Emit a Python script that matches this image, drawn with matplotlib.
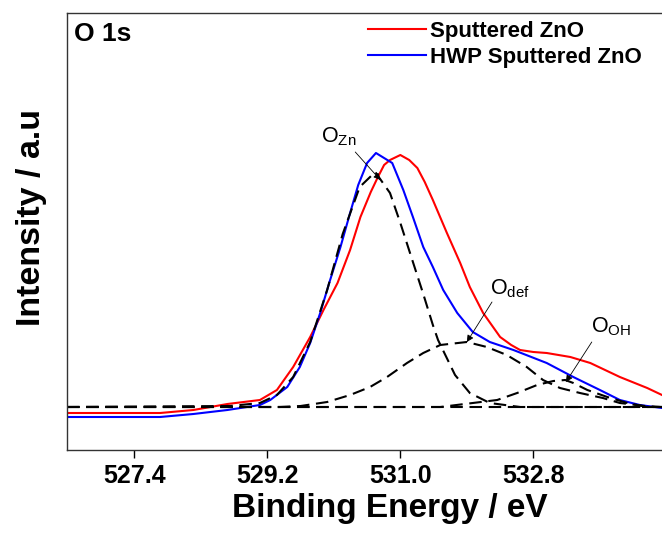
import matplotlib
matplotlib.use('Agg')
import matplotlib.pyplot as plt

plt.rcParams['font.family'] = ['Liberation Sans', 'DejaVu Sans']
plt.rcParams['mathtext.fontset'] = 'custom'
plt.rcParams['mathtext.rm'] = 'Liberation Sans'

# measured spectra (binding energy in eV, intensity in arb. units)
red_ev = [526.49, 527.75, 528.20, 528.66, 529.10, 529.33, 529.55, 529.78, 529.96, 530.15,
          530.32, 530.46, 530.60, 530.69, 530.78, 530.86, 531.00, 531.12, 531.23, 531.33,
          531.44, 531.63, 531.81, 531.94, 532.12, 532.35, 532.50, 532.62, 532.80, 532.98,
          533.30, 533.57, 533.97, 534.34, 534.54]
red_int = [37, 37, 40, 46, 50, 60, 83, 113, 140, 167,
           200, 233, 258, 272, 285, 290, 295, 290, 282, 268,
           250, 217, 187, 163, 137, 113, 105, 100, 98, 97,
           93, 87, 73, 62, 55]

blue_ev = [526.49, 527.75, 528.20, 528.66, 529.10, 529.24, 529.47, 529.64, 529.78, 529.92,
           530.05, 530.19, 530.32, 530.43, 530.55, 530.67, 530.89, 531.04, 531.17, 531.31,
           531.44, 531.58, 531.77, 531.98, 532.21, 532.53, 532.98, 533.34, 533.70, 533.97,
           534.24, 534.54]
blue_int = [33, 33, 36, 40, 45, 50, 63, 83, 107, 138,
            170, 203, 237, 265, 287, 297, 287, 260, 233, 203,
            183, 160, 137, 118, 108, 100, 87, 73, 60, 50,
            45, 42]

# fitted components
bg_ev = [526.49, 534.54]
bg_int = [43, 43]

ozn_ev = [526.49, 528.70, 529.10, 529.33, 529.55, 529.78, 530.01, 530.22, 530.45, 530.66,
          530.86, 531.00, 531.17, 531.31, 531.44, 531.51, 531.74, 531.94, 532.21, 532.62, 534.54]
ozn_int = [43, 44, 47, 55, 73, 108, 160, 216, 263, 278,
           257, 227, 188, 156, 125, 110, 75, 57, 47, 43, 43]

odef_ev = [526.49, 529.37, 529.65, 530.01, 530.32, 530.59, 530.82, 531.09, 531.31, 531.54,
           531.90, 532.17, 532.44, 532.71, 532.93, 533.16, 533.43, 533.74, 533.97, 534.31, 534.54]
odef_int = [43, 43, 44, 48, 55, 63, 73, 87, 97, 105,
            108, 103, 95, 83, 70, 62, 57, 52, 47, 44, 43]

ooh_ev = [526.49, 531.54, 531.98, 532.31, 532.58, 532.85, 533.07, 533.23, 533.34, 533.53,
          533.80, 534.07, 534.34, 534.54]
ooh_int = [43, 43, 47, 50, 57, 65, 69, 70, 67, 60,
           53, 47, 43, 43]

xticks = [527.4, 529.2, 531.0, 532.8]

fig = plt.figure(figsize=(6.62, 5.38), dpi=100)
# the frame runs past the right edge of the picture (cropped figure)
ax = fig.add_axes([67 / 662, 1 - 450 / 538, 646 / 662, 437 / 538])

ax.plot(red_ev, red_int, color='#ff0000', linewidth=1.5, label='Sputtered ZnO')
ax.plot(blue_ev, blue_int, color='#0000ff', linewidth=1.5, label='HWP Sputtered ZnO')

dash = (0, (6, 3.2))
for ev, inten in [(bg_ev, bg_int), (ozn_ev, ozn_int), (odef_ev, odef_int), (ooh_ev, ooh_int)]:
    ax.plot(ev, inten, color='black', linewidth=1.5, linestyle=dash)

# peak labels
arrow = dict(arrowstyle='-|>', color='black', lw=0.6, mutation_scale=10, shrinkA=0, shrinkB=0)
ax.annotate('', xy=(530.73, 270), xytext=(530.39, 298), arrowprops=arrow)
ax.text(529.93, 313, r'O$_{\mathregular{Zn}}$', fontsize=15.5, va='center', ha='left')
ax.annotate('', xy=(531.90, 108), xytext=(532.24, 148), arrowprops=arrow)
ax.text(532.21, 161, r'O$_{\mathregular{def}}$', fontsize=15.5, va='center', ha='left')
ax.annotate('', xy=(533.24, 68), xytext=(533.59, 108), arrowprops=arrow)
ax.text(533.58, 123, r'O$_{\mathregular{OH}}$', fontsize=15.5, va='center', ha='left')

ax.text(526.58, 428, 'O 1s', fontsize=19, fontweight='bold', va='top', ha='left')

ax.set_xlim(526.49, 535.23)
ax.set_ylim(0, 437)
ax.set_xticks(xticks)
ax.set_xticklabels(['%.1f' % t for t in xticks], fontsize=18, fontweight='bold')
ax.set_yticks([])
ax.tick_params(axis='x', direction='out', length=6, width=1, pad=4)
ax.set_xlabel('Binding Energy / eV', fontsize=24, fontweight='bold', labelpad=4)
ax.set_ylabel('Intensity / a.u', fontsize=24.5, fontweight='bold')
ax.yaxis.set_label_coords(-0.031, 0.531)
for s in ax.spines.values():
    s.set_color('#333333')
    s.set_linewidth(1)

lgd = ax.legend(loc='upper left', bbox_to_anchor=(0.445, 1.012), frameon=False,
                prop={'weight': 'bold', 'size': 16}, handlelength=2.6,
                handletextpad=0.2, labelspacing=0.2, borderaxespad=0.2)

plt.savefig('out.png', dpi=100)
